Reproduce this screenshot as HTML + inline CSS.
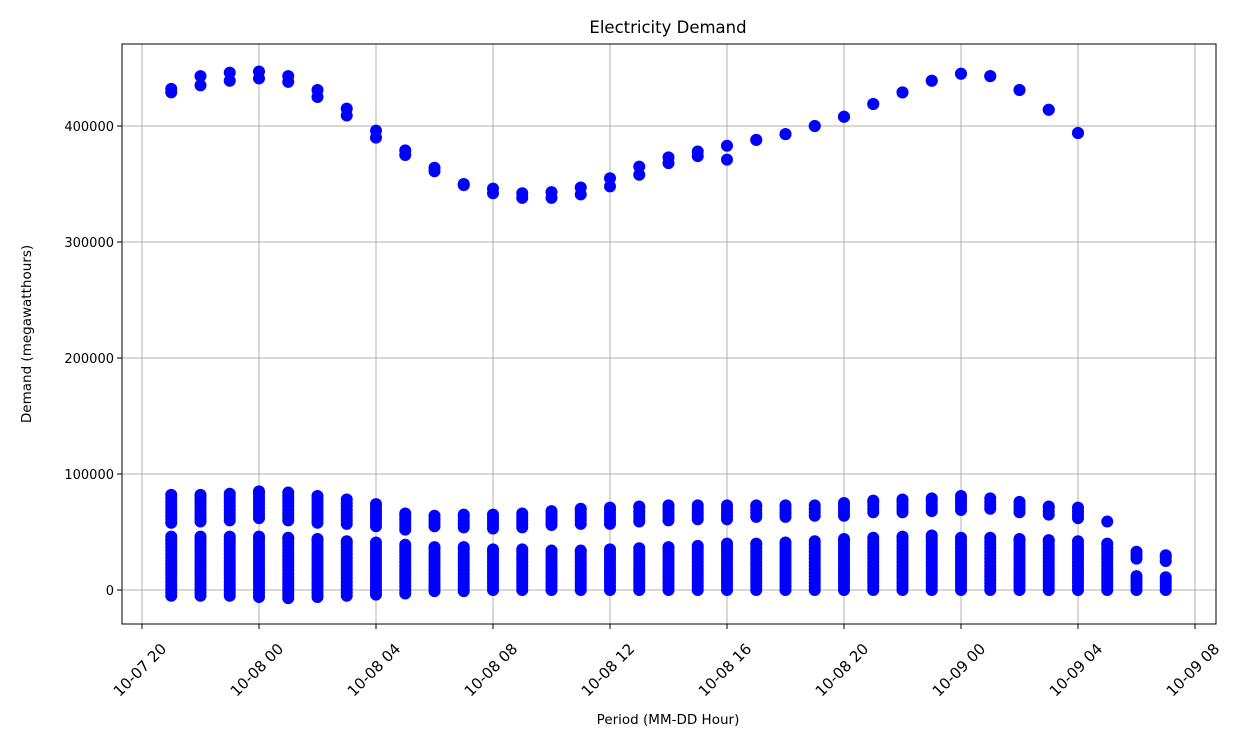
<!DOCTYPE html>
<html><head><meta charset="utf-8"><style>
body{margin:0;background:#fff;font-family:"Liberation Sans","DejaVu Sans",sans-serif}
</style></head><body>
<svg id="chart" width="1250" height="747" xmlns="http://www.w3.org/2000/svg" font-family="'DejaVu Sans','Liberation Sans',sans-serif">
<rect width="1250" height="747" fill="#fff"/>
<text x="668" y="33" font-size="16.5" text-anchor="middle">Electricity Demand</text>
<text x="668" y="724" font-size="13.5" text-anchor="middle">Period (MM-DD Hour)</text>
<text transform="translate(31,334) rotate(-90)" font-size="13.5" text-anchor="middle">Demand (megawatthours)</text>
<g id="grid"></g><g id="marks"></g><g id="axes"></g>
</svg>
<script>
// hours since 10-07 20:00
const hours = [1,2,3,4,5,6,7,8,9,10,11,12,13,14,15,16,17,18,19,20,21,22,23,24,25,26,27,28,29,30,31,32,33,34,35];
const topA = [432000,443000,446000,447000,443000,431000,415000,396000,379000,364000,350000,346000,342000,343000,347000,355000,365000,373000,378000,383000,388000,393000,400000,408000,419000,429000,439000,445000,443000,431000,414000,394000,null,null,null];
const topB = [429000,435000,439000,441000,438000,425000,409000,390000,375000,361000,349000,342000,338000,338000,341000,348000,358000,368000,374000,371000,388000,393000,400000,408000,419000,429000,439000,445000,443000,431000,414000,394000,null,null,null];
const midMax = [82000,82000,83000,85000,84000,81000,78000,74000,66000,64000,65000,65000,66000,68000,70000,71000,72000,73000,73000,73000,73000,73000,73000,75000,77000,78000,79000,81000,79000,76000,72000,71000,59000,33000,30000];
const midMin = [58000,59000,60000,62000,60000,58000,57000,55000,52000,55000,54000,53000,54000,56000,57000,57000,59000,60000,61000,61000,63000,63000,64000,64000,67000,67000,68000,69000,70000,67000,65000,62000,59000,27000,25000];
const lowMax = [46000,46000,46000,46000,45000,44000,42000,41000,39000,37000,37000,35000,35000,34000,34000,35000,36000,37000,38000,40000,40000,41000,42000,44000,45000,46000,47000,45000,45000,44000,43000,42000,40000,12000,11000];
const lowMin = [-5000,-5000,-5000,-6000,-7000,-6000,-5000,-4000,-3000,-1000,-1000,0,0,0,0,0,0,0,0,0,0,0,0,0,0,0,0,0,0,0,0,0,0,0,0];
const xTickHours = [0,4,8,12,16,20,24,28,32,36];
const xTickLabels = ["10-07 20","10-08 00","10-08 04","10-08 08","10-08 12","10-08 16","10-08 20","10-09 00","10-09 04","10-09 08"];
const yTicks = [0,100000,200000,300000,400000];

const L=122,R=1216,T=44,B=624;
const X=h=>142+h*29.25;
const Y=v=>590-v*116/100000;
const NS="http://www.w3.org/2000/svg";
function mk(tag,attrs,parent){const e=document.createElementNS(NS,tag);for(const k in attrs)e.setAttribute(k,attrs[k]);parent.appendChild(e);return e;}
const grid=document.getElementById('grid'),marks=document.getElementById('marks'),axes=document.getElementById('axes');
xTickHours.forEach((h,i)=>{
  const x=X(h);
  const g=mk('line',{x1:x,x2:x,y1:T,y2:B,stroke:'#b0b0b0','stroke-width':1},grid);
  
  
  mk('line',{x1:x,x2:x,y1:B,y2:B+5,stroke:'#000'},axes);
  const ax=x-2, ay=670;
  const t=mk('text',{x:ax,y:ay+5,'font-size':15,'text-anchor':'middle',transform:`rotate(-45 ${ax} ${ay})`},axes);
  t.textContent=xTickLabels[i];
  
  
});
yTicks.forEach(v=>{
  const y=Y(v);
  const g=mk('line',{x1:L,x2:R,y1:y,y2:y,stroke:'#b0b0b0','stroke-width':1},grid);
  
  
  mk('line',{x1:L-5,x2:L,y1:y,y2:y,stroke:'#000'},axes);
  const t=mk('text',{x:L-8,y:y+5,'font-size':13,'text-anchor':'end'},axes);
  t.textContent=String(v);
  
  
});
const frame=mk('rect',{x:L,y:T,width:R-L,height:B-T,fill:'none',stroke:'#000','stroke-width':1},axes);


function dot(h,v){
  const c=mk('circle',{cx:X(h),cy:Y(v),r:6,fill:'#0000ff'},marks);
  
  
}
hours.forEach((h,i)=>{
  if(topA[i]!=null)dot(h,topA[i]);
  if(topB[i]!=null)dot(h,topB[i]);
  for(let v=midMin[i];v<midMax[i];v+=3000)dot(h,v);
  dot(h,midMax[i]);
  for(let v=lowMin[i];v<lowMax[i];v+=3000)dot(h,v);
  dot(h,lowMax[i]);
});
</script>
</body></html>
